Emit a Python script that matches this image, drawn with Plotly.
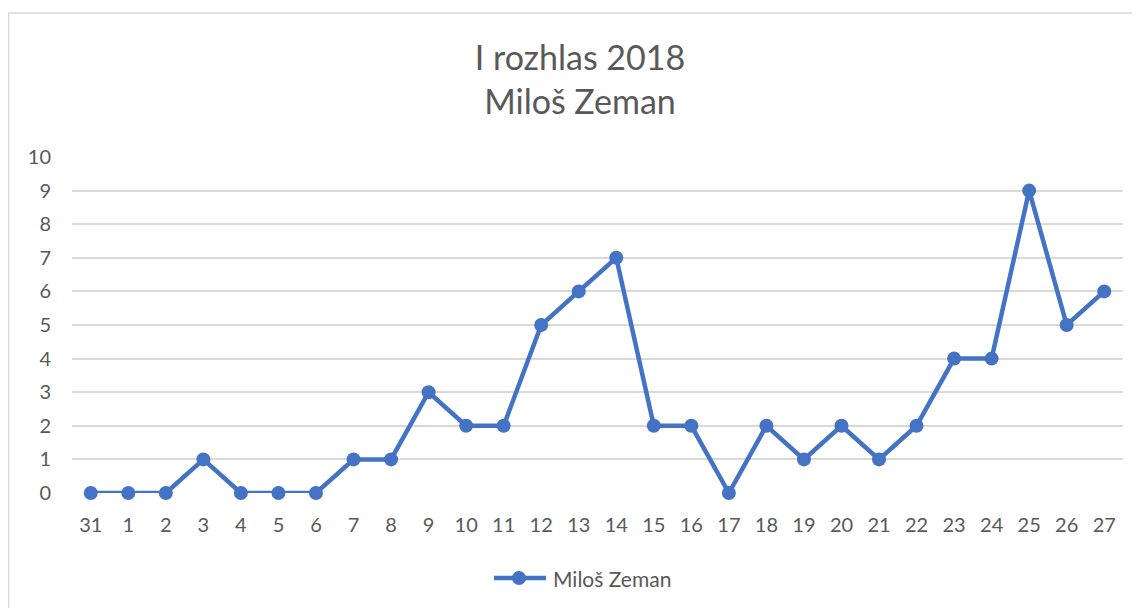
import plotly.graph_objects as go

days = ["31", "1", "2", "3", "4", "5", "6", "7", "8", "9", "10", "11", "12", "13",
        "14", "15", "16", "17", "18", "19", "20", "21", "22", "23", "24", "25", "26", "27"]
zeman = [0, 0, 0, 1, 0, 0, 0, 1, 1, 3, 2, 2, 5, 6, 7, 2, 2, 0, 2, 1, 2, 1, 2, 4, 4, 9, 5, 6]

FONT = "Lato, Liberation Sans, sans-serif"
GRAY = "#595959"
BLUE = "#4472C4"

OFF = 8  # page body margin
W, H = 1140 - OFF, 608 - OFF
L, T = 72 - OFF, 157 - OFF
R = W - (1123 - OFF)
B = H - (493 - OFF)
pw, ph = W - L - R, H - T - B


def px(x):
    return (x - OFF - L) / pw


def py(y):
    return (H - B - (y - OFF)) / ph


fig = go.Figure()
fig.add_trace(go.Scatter(
    x=days, y=zeman, mode="lines+markers", name="Miloš Zeman",
    line=dict(color=BLUE, width=4.5),
    marker=dict(color=BLUE, size=14),
    cliponaxis=False, showlegend=False,
))

LEG_Y = 578
legend_shapes = [
    dict(type="line", xref="paper", yref="paper",
         x0=px(494), x1=px(546), y0=py(LEG_Y), y1=py(LEG_Y),
         line=dict(color=BLUE, width=4.5)),
    dict(type="circle", xref="paper", yref="paper",
         x0=px(519 - 7), x1=px(519 + 7), y0=py(LEG_Y + 7), y1=py(LEG_Y - 7),
         line=dict(color=BLUE, width=0), fillcolor=BLUE),
]

fig.update_layout(
    width=W, height=H,
    margin=dict(l=L, r=R, t=T, b=B),
    paper_bgcolor="white", plot_bgcolor="white",
    font=dict(family=FONT, color=GRAY, size=20),
    title=dict(text="I rozhlas 2018<br>Miloš Zeman", x=(580 - OFF) / W, xanchor="center",
               xref="container", y=1 - (70 - OFF) / H, yanchor="middle", yref="container",
               font=dict(size=34, color=GRAY, family=FONT)),
    showlegend=False,
    annotations=[dict(text="Miloš Zeman", xref="paper", yref="paper",
                      x=px(551), y=py(LEG_Y), xanchor="left", yanchor="middle",
                      showarrow=False, font=dict(size=21, color=GRAY, family=FONT))],
    xaxis=dict(type="category", showgrid=False, zeroline=False, showline=False,
               ticks="", tickfont=dict(size=20, color=GRAY), ticklabelstandoff=18,
               range=[-0.5, len(days) - 0.5]),
    yaxis=dict(range=[0, 10], dtick=1, showgrid=True, gridcolor="#D9D9D9", gridwidth=1.5,
               zeroline=False, showline=False, ticks="",
               tickfont=dict(size=20, color=GRAY), ticklabelstandoff=20),
    shapes=[dict(type="rect", xref="paper", yref="paper",
                 x0=px(8.5), x1=px(1170), y0=py(13), y1=py(640),
                 line=dict(color="#D9D9D9", width=1.5), layer="below")] + legend_shapes,
)

fig.write_html("out.html")
